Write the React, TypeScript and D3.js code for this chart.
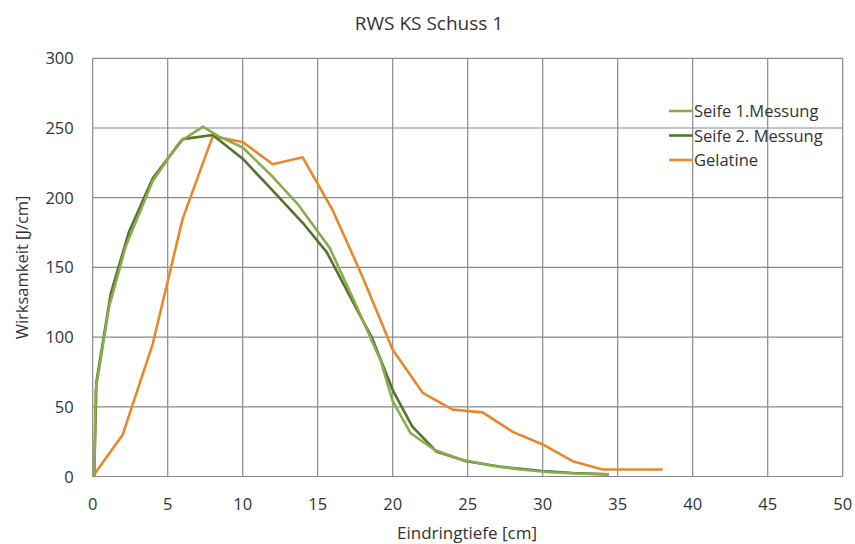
import React, { useEffect, useRef } from 'react';
import * as d3 from 'd3';

// Eindringtiefe [cm] / Wirksamkeit [J/cm]
const seife1X = [0.1, 0.2, 1.1, 2.2, 4.0, 5.8, 7.35, 8.4, 10, 12, 13.7, 15.8, 17.6, 19.2, 20.0, 21.2, 22.8, 24.6, 26.5, 28.5, 30.5, 32.5, 34.4];
const seife1Y = [0, 62, 122, 165, 212, 240, 251, 244, 236, 215, 195, 164, 122, 83, 54, 31, 19, 12, 8, 5, 3, 2, 1.5];

const seife2X = [0.1, 0.25, 1.2, 2.4, 4.0, 6.0, 8.0, 10, 12, 14, 15.6, 17.6, 18.6, 20.0, 21.3, 22.9, 24.9, 27.2, 30, 32, 34.4];
const seife2Y = [0, 68, 131, 175, 214, 242, 245, 228, 205, 182, 161, 120, 100, 62, 36, 18, 11, 7, 4, 2.5, 1.5];

const gelatineX = [0, 2, 4, 6, 8, 10, 12, 14, 16, 18, 20, 22, 24, 26, 28, 30, 32, 34, 36, 38];
const gelatineY = [0, 30, 95, 185, 244, 240, 224, 229, 191, 143, 91, 60, 48, 46, 32, 23, 11, 5, 5, 5];

const seriesNames = ['Seife 1.Messung', 'Seife 2. Messung', 'Gelatine'];
const seriesColors = ['#8aac4e', '#55722f', '#e8882e'];

const xTicks = [0, 5, 10, 15, 20, 25, 30, 35, 40, 45, 50];
const yTicks = [0, 50, 100, 150, 200, 250, 300];

const FONT = '"Open Sans", "Noto Sans", sans-serif';

function App() {
  const ref = useRef<SVGSVGElement>(null);

  useEffect(() => {
    const svg = d3.select(ref.current);
    svg.selectAll('*').remove();

    const W = 855;
    const H = 544;
    const left = 92.7;
    const right = 842.7;
    const top = 58.3;
    const bottom = 476.5;

    const x = d3.scaleLinear().domain([0, 50]).range([left, right]);
    const y = d3.scaleLinear().domain([0, 300]).range([bottom, top]);

    svg.append('rect').attr('width', W).attr('height', H).attr('fill', '#fff');

    // grid
    const grid = svg.append('g').attr('stroke', '#8a8a8a').attr('stroke-width', 1.2);
    grid.selectAll('line.v')
      .data(xTicks)
      .enter()
      .append('line')
      .attr('x1', d => x(d))
      .attr('x2', d => x(d))
      .attr('y1', top)
      .attr('y2', bottom);
    grid.selectAll('line.h')
      .data(yTicks)
      .enter()
      .append('line')
      .attr('x1', left)
      .attr('x2', right)
      .attr('y1', d => y(d))
      .attr('y2', d => y(d));

    // tick labels
    svg.append('g')
      .selectAll('text')
      .data(xTicks)
      .enter()
      .append('text')
      .attr('x', d => x(d))
      .attr('y', bottom + 33)
      .attr('text-anchor', 'middle')
      .attr('font-family', FONT)
      .attr('font-size', 16.5)
      .attr('fill', '#333')
      .text(d => d);

    svg.append('g')
      .selectAll('text')
      .data(yTicks)
      .enter()
      .append('text')
      .attr('x', left - 19)
      .attr('y', d => y(d) + 6)
      .attr('text-anchor', 'end')
      .attr('font-family', FONT)
      .attr('font-size', 16.5)
      .attr('fill', '#333')
      .text(d => d);

    // series
    const line = d3.line<[number, number]>()
      .x(d => x(d[0]))
      .y(d => y(d[1]));

    const series: [number, number][][] = [
      seife1X.map((v, i) => [v, seife1Y[i]]),
      seife2X.map((v, i) => [v, seife2Y[i]]),
      gelatineX.map((v, i) => [v, gelatineY[i]]),
    ];

    // draw Gelatine first, then Seife 2, then Seife 1 on top
    [2, 1, 0].forEach(k => {
      svg.append('path')
        .datum(series[k])
        .attr('d', line)
        .attr('fill', 'none')
        .attr('stroke', seriesColors[k])
        .attr('stroke-width', 2.6)
        .attr('stroke-linejoin', 'round');
    });

    // legend
    const legend = svg.append('g');
    seriesNames.forEach((name, i) => {
      const ly = 111 + i * 24.5;
      legend.append('line')
        .attr('x1', 669)
        .attr('x2', 693)
        .attr('y1', ly)
        .attr('y2', ly)
        .attr('stroke', seriesColors[i])
        .attr('stroke-width', 2.6);
      legend.append('text')
        .attr('x', 694)
        .attr('y', ly + 6)
        .attr('font-family', FONT)
        .attr('font-size', 16.5)
        .attr('fill', '#333')
        .text(name);
    });

    // titles
    svg.append('text')
      .attr('x', 429)
      .attr('y', 30)
      .attr('text-anchor', 'middle')
      .attr('font-family', FONT)
      .attr('font-size', 19)
      .attr('fill', '#333')
      .text('RWS KS Schuss 1');

    svg.append('text')
      .attr('x', 467)
      .attr('y', 539)
      .attr('text-anchor', 'middle')
      .attr('font-family', FONT)
      .attr('font-size', 17)
      .attr('fill', '#333')
      .text('Eindringtiefe [cm]');

    svg.append('text')
      .attr('transform', `translate(28,${(top + bottom) / 2}) rotate(-90)`)
      .attr('text-anchor', 'middle')
      .attr('font-family', FONT)
      .attr('font-size', 16.5)
      .attr('fill', '#333')
      .text('Wirksamkeit [J/cm]');
  }, []);

  return (
    <svg
      ref={ref}
      width={855}
      height={544}
      style={{ position: 'absolute', left: 0, top: 0, display: 'block' }}
    ></svg>
  );
}

export default App;
